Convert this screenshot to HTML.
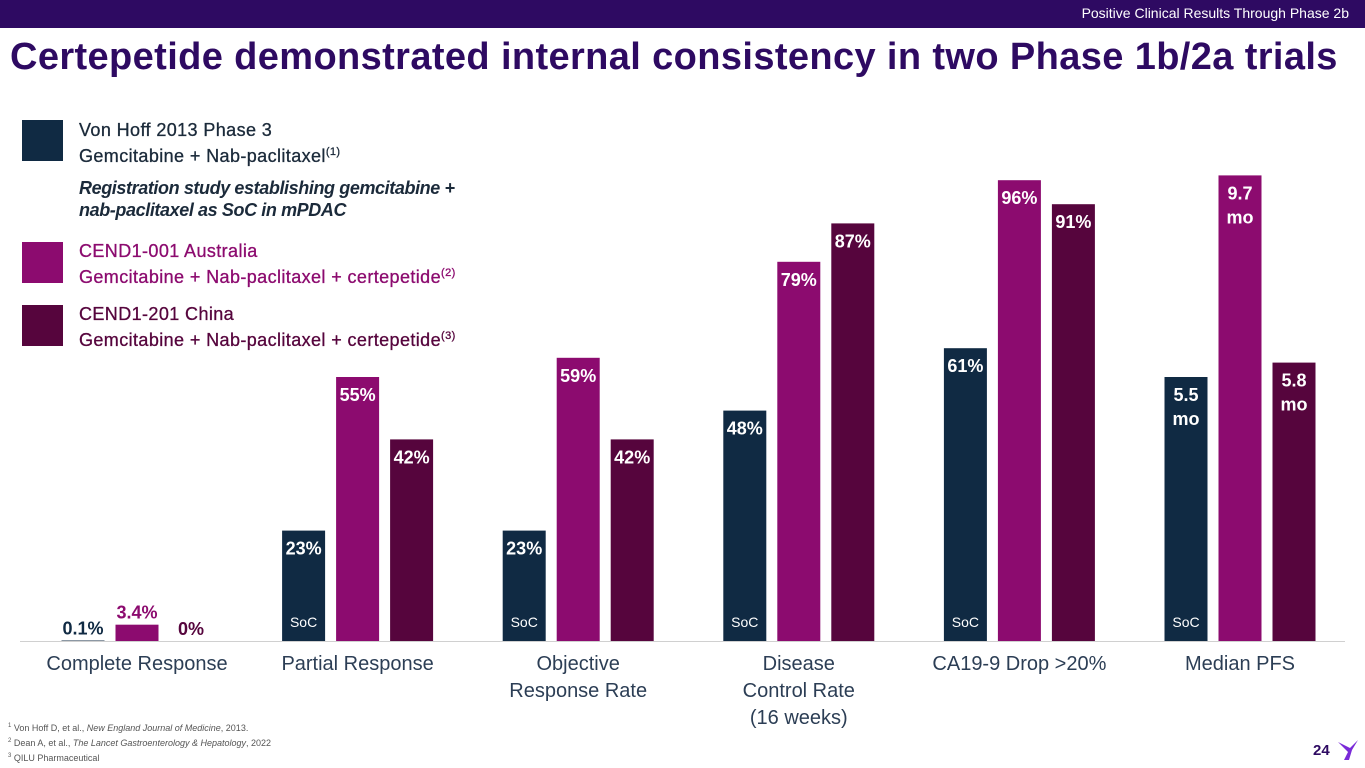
<!DOCTYPE html>
<html><head><meta charset="utf-8"><style>
body{margin:0;width:1365px;height:768px;overflow:hidden;background:#fff;font-family:"Liberation Sans",sans-serif;position:relative}
.banner{position:absolute;left:0;top:0;width:1365px;height:28px;background:#2e0a62}
.banner span{position:absolute;right:16px;top:5px;color:#fff;font-size:14px;font-family:"Liberation Sans Narrow","Liberation Sans",sans-serif}
h1{position:absolute;left:10px;top:36px;margin:0;font-size:38px;color:#2e0a62;font-weight:bold;letter-spacing:0.38px;white-space:nowrap}
.lb{position:absolute;left:22px;width:41px;height:41px}
.lt{position:absolute;left:79px;font-size:18px;line-height:22px;white-space:nowrap;letter-spacing:0.4px;-webkit-text-stroke:0.3px currentColor}
.lt sup{font-size:11px}
.fn{position:absolute;left:8px;top:720px;font-size:9px;line-height:13px;color:#555}
.fn sup{font-size:6px}
</style></head><body>
<div class="banner"><span>Positive Clinical Results Through Phase 2b</span></div>
<h1>Certepetide demonstrated internal consistency in two Phase 1b/2a trials</h1>
<div class="lb" style="top:120px;background:#102a43"></div>
<div class="lt" style="top:119px;color:#1b2a3a">Von Hoff 2013 Phase 3<br>Gemcitabine + Nab-paclitaxel<sup>(1)</sup></div>
<div class="lt" style="top:177px;color:#1b2a3a;font-style:italic;font-weight:bold;letter-spacing:-0.4px;-webkit-text-stroke:0">Registration study establishing gemcitabine +<br>nab-paclitaxel as SoC in mPDAC</div>
<div class="lb" style="top:242px;background:#8c0b6f"></div>
<div class="lt" style="top:240px;color:#8c0b6f">CEND1-001 Australia<br>Gemcitabine + Nab-paclitaxel + certepetide<sup>(2)</sup></div>
<div class="lb" style="top:305px;background:#56053d"></div>
<div class="lt" style="top:303px;color:#56053d">CEND1-201 China<br>Gemcitabine + Nab-paclitaxel + certepetide<sup>(3)</sup></div>
<div class="fn"><sup>1</sup> Von Hoff D, et al., <i>New England Journal of Medicine</i>, 2013.<br><sup>2</sup> Dean A, et al., <i>The Lancet Gastroenterology &amp; Hepatology</i>, 2022<br><sup>3</sup> QILU Pharmaceutical</div>
<div style="position:absolute;left:1313px;top:742px;font-size:15px;font-weight:bold;color:#2e0a62">24</div>
<svg style="position:absolute;left:1336px;top:738px" width="24" height="24"><path d="M2 4 L12 14 L8 22 L13 22 L16 12 L22 2 L14 10 Z" fill="#7a2ad8"/></svg>
<svg id="chart" width="1365" height="768" style="position:absolute;left:0;top:0"></svg>
<script>
const categories=[["Complete Response"],["Partial Response"],["Objective","Response Rate"],["Disease","Control Rate","(16 weeks)"],["CA19-9 Drop >20%"],["Median PFS"]];
const vonHoff=[0.1,23,23,48,61,5.5];
const australia=[3.4,55,59,79,96,9.7];
const china=[0,42,42,87,91,5.8];
const vonHoffLabels=["0.1%","23%","23%","48%","61%","5.5|mo"];
const australiaLabels=["3.4%","55%","59%","79%","96%","9.7|mo"];
const chinaLabels=["0%","42%","42%","87%","91%","5.8|mo"];
const units=["pct","pct","pct","pct","pct","mo"];
const socShown=[false,true,true,true,true,true];
const svg=document.getElementById('chart');const NS="http://www.w3.org/2000/svg";
const base=641;
function y(v,u){return base-(u==="mo"?v*48:v*4.8);}
function cx(i){return 137+i*220.6;}
function mk(tag,at){const e=document.createElementNS(NS,tag);for(const k in at)e.setAttribute(k,at[k]);svg.appendChild(e);return e;}
const series=[{d:vonHoff,l:vonHoffLabels,c:"#102a43",o:-54,n:"vonhoff"},{d:australia,l:australiaLabels,c:"#8c0b6f",o:0,n:"australia"},{d:china,l:chinaLabels,c:"#56053d",o:54,n:"china"}];
const ax=mk('line',{x1:20,x2:1345,y1:base+0.5,y2:base+0.5,stroke:"#d0d0d0","stroke-width":1});


categories.forEach((cat,i)=>{
  series.forEach(s=>{
    const v=s.d[i],top=y(v,units[i]),x=cx(i)+s.o-21.5;
    const r=mk('rect',{x:x,y:top,width:43,height:base-top,fill:s.c});
    
    
    const lines=s.l[i].split('|');const small=(base-top)<40;
    lines.forEach((t,k)=>{
      const tx=mk('text',{x:cx(i)+s.o,y:small?top-6:top+24+k*24,"text-anchor":"middle","font-size":18,"font-weight":"bold",fill:small?s.c:"#fff","font-family":"Liberation Sans, sans-serif"});
      tx.textContent=t;
      
      
    });
  });
  if(socShown[i]){const t=mk('text',{x:cx(i)-54,y:627,"text-anchor":"middle","font-size":14,fill:"#fff","font-family":"Liberation Sans, sans-serif"});t.textContent="SoC";
    
    }
  cat.forEach((ln,k)=>{const t=mk('text',{x:cx(i),y:670+k*27,"text-anchor":"middle","font-size":20,fill:"#2c3e55","font-family":"Liberation Sans, sans-serif"});t.textContent=ln;
    
    });
});
</script>
</body></html>
